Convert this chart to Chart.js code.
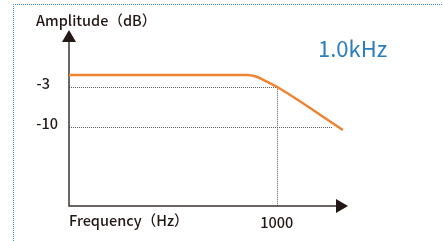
<!DOCTYPE html>
<html>
<head>
<meta charset="utf-8">
<script src="https://cdn.jsdelivr.net/npm/chart.js@4/dist/chart.umd.min.js"></script>
<style>
html,body{margin:0;padding:0;background:#fff;}
#wrap{position:relative;width:443px;height:241px;}
</style>
</head>
<body>
<div id="wrap"><canvas id="c" width="443" height="241"></canvas></div>
<script>
// Data
const freqHz = [1, 382, 498, 650, 1000, 9000];
const gainDb = [-0.93, -0.93, -1.19, -1.81, -3.0, -10.6];
const yTickLabels = ['-3', '-10'];
const yTickValues = [-3, -10];
const xTickLabels = ['1000'];
const xTickValues = [1000];
const refLineEndsHz = [1000, 6400]; // where dotted guides meet the curve
const cornerLabel = '1.0kHz';
const yAxisTitle = 'Amplitude（dB）';
const xAxisTitle = 'Frequency（Hz）';

const FONT = '"Noto Sans CJK SC", "Noto Sans", sans-serif';

const decor = {
  id: 'decor',
  beforeDatasetsDraw(chart) {
    const {ctx, chartArea: a, scales: {x, y}} = chart;
    ctx.save();
    // blue dotted frame
    ctx.strokeStyle = '#3a8fd6';
    ctx.lineWidth = 1;
    ctx.setLineDash([1, 1]);
    ctx.beginPath();
    ctx.moveTo(13.5, 241); ctx.lineTo(13.5, 4.5); ctx.lineTo(443, 4.5);
    ctx.stroke();

    // dotted guides
    ctx.strokeStyle = '#5e5e5e';
    ctx.lineWidth = 1;
    ctx.setLineDash([1, 1]);
    yTickValues.forEach((v, i) => {
      const py = Math.round(y.getPixelForValue(v)) + 0.5;
      ctx.beginPath();
      ctx.moveTo(a.left, py);
      ctx.lineTo(x.getPixelForValue(refLineEndsHz[i]), py);
      ctx.stroke();
    });
    xTickValues.forEach(v => {
      const px = Math.round(x.getPixelForValue(v)) + 0.5;
      ctx.beginPath();
      ctx.moveTo(px, y.getPixelForValue(yTickValues[0]));
      ctx.lineTo(px, a.bottom);
      ctx.stroke();
    });
    ctx.setLineDash([]);

    // axes with arrows
    ctx.strokeStyle = '#3b3431';
    ctx.fillStyle = '#231815';
    ctx.lineWidth = 1.5;
    ctx.beginPath();
    ctx.moveTo(a.left, a.top + 10);
    ctx.lineTo(a.left, a.bottom);
    ctx.lineTo(a.right - 10, a.bottom);
    ctx.stroke();
    ctx.beginPath();
    ctx.moveTo(a.left, a.top);
    ctx.lineTo(a.left - 7, a.top + 12);
    ctx.lineTo(a.left + 7, a.top + 12);
    ctx.closePath(); ctx.fill();
    ctx.beginPath();
    ctx.moveTo(a.right + 2, a.bottom);
    ctx.lineTo(a.right - 10, a.bottom - 7);
    ctx.lineTo(a.right - 10, a.bottom + 7);
    ctx.closePath(); ctx.fill();

    // texts
    ctx.fillStyle = '#231815';
    ctx.font = '500 14.5px ' + FONT;
    ctx.textBaseline = 'middle';
    ctx.textAlign = 'left';
    ctx.fillText(yAxisTitle, 36, 20);
    ctx.fillText(xAxisTitle, a.left, 220);
    ctx.textAlign = 'right';
    yTickLabels.forEach((t, i) => {
      ctx.fillText(t, 58 - (t.length < 3 ? 8 : 0), y.getPixelForValue(yTickValues[i]) - 3);
    });
    ctx.textAlign = 'center';
    xTickLabels.forEach((t, i) => {
      ctx.fillText(t, x.getPixelForValue(xTickValues[i]), 222);
    });
    ctx.fillStyle = '#2b7dc2';
    ctx.font = '22px ' + FONT;
    ctx.textAlign = 'left';
    ctx.fillText(cornerLabel, 318, 49);
    ctx.restore();
  }
};

new Chart(document.getElementById('c'), {
  type: 'line',
  data: {
    datasets: [{
      data: freqHz.map((f, i) => ({x: f, y: gainDb[i]})),
      borderColor: '#ee8331',
      borderWidth: 2.5,
      pointRadius: 0,
      cubicInterpolationMode: 'monotone',
      fill: false
    }]
  },
  options: {
    responsive: false,
    animation: false,
    layout: {padding: {left: 69, right: 97, top: 30, bottom: 35}},
    plugins: {legend: {display: false}, tooltip: {enabled: false}},
    scales: {
      x: {type: 'logarithmic', min: 1, max: 10000, display: false},
      y: {type: 'linear', min: -24, max: 7, display: false}
    }
  },
  plugins: [decor]
});
</script>
</body>
</html>
